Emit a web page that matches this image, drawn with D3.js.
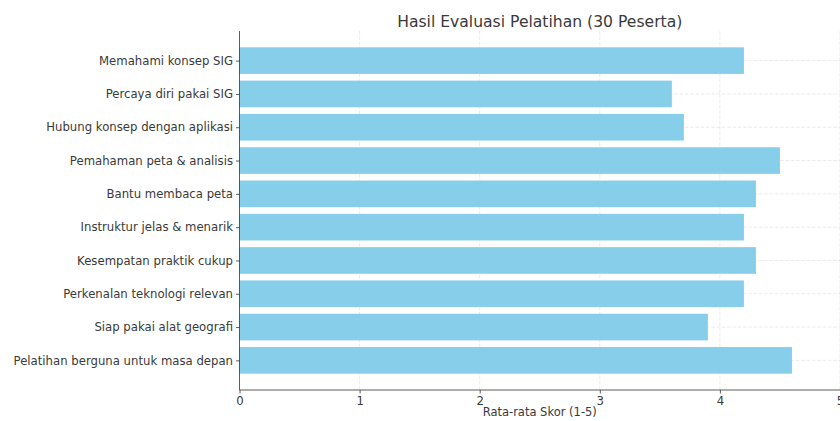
<!DOCTYPE html>
<html><head><meta charset="utf-8">
<script src="https://cdn.jsdelivr.net/npm/d3@7"></script>
<style>body{margin:0;background:#fff}svg{display:block}text{font-family:"DejaVu Sans",sans-serif;fill:#3a3a3a}</style>
</head><body><svg id="c" width="840" height="421"></svg>
<script>
const categories = ["Memahami konsep SIG","Percaya diri pakai SIG","Hubung konsep dengan aplikasi","Pemahaman peta & analisis","Bantu membaca peta","Instruktur jelas & menarik","Kesempatan praktik cukup","Perkenalan teknologi relevan","Siap pakai alat geografi","Pelatihan berguna untuk masa depan"];
const scores = [4.2,3.6,3.7,4.5,4.3,4.2,4.3,4.2,3.9,4.6];
const xTicks = [0,1,2,3,4,5];
const title = "Hasil Evaluasi Pelatihan (30 Peserta)";
const xLabel = "Rata-rata Skor (1-5)";

const svg = d3.select("#c");
const L = 239.5, R = 840, T = 31, B = 390;
const x = d3.scaleLinear().domain([0,5]).range([L,R]);
const y = d3.scaleLinear().domain([-0.89, categories.length - 1 + 0.89]).range([T,B]);
const bh = 0.8 * (y(1) - y(0));

// grid
const g = svg.append("g");
g.selectAll("line.vx").data(xTicks.slice(1)).join("line")
  .attr("x1", d=>x(d)).attr("x2", d=>x(d)).attr("y1", T).attr("y2", B)
  .attr("stroke", "#c8c8c8").attr("stroke-opacity", 0.45).attr("stroke-dasharray", "3.7,1.6").attr("stroke-width", 0.8);
g.selectAll("line.hy").data(categories).join("line")
  .attr("x1", L).attr("x2", R).attr("y1", (d,i)=>y(i)).attr("y2", (d,i)=>y(i))
  .attr("stroke", "#c8c8c8").attr("stroke-opacity", 0.45).attr("stroke-dasharray", "3.7,1.6").attr("stroke-width", 0.8);

// bars
svg.selectAll("rect.bar").data(scores).join("rect")
  .attr("x", x(0)).attr("y", (d,i)=>y(i) - bh/2)
  .attr("width", d=>x(d) - x(0)).attr("height", bh)
  .attr("fill", "#87CEEB");

// axes
const xAxis = d3.axisBottom(x).tickValues(xTicks).tickFormat(d3.format("d")).tickSize(3.5).tickPadding(3);
const xa = svg.append("g").attr("transform", `translate(0,${B})`).call(xAxis);
const yAxis = d3.axisLeft(y).tickValues(d3.range(categories.length)).tickFormat(i=>categories[i]).tickSize(3.5).tickPadding(3);
const ya = svg.append("g").attr("transform", `translate(${L},0)`).call(yAxis);
[xa, ya].forEach(a => {
  a.select(".domain").attr("stroke", "#333").attr("stroke-width", 0.8);
  a.selectAll(".tick line").attr("stroke", "#333").attr("stroke-width", 0.8);
  a.selectAll(".tick text").attr("font-size", 11.7).attr("fill", "#3a3a3a").style("font-family", '"DejaVu Sans",sans-serif');
});
ya.select(".domain").attr("d", `M0,${T}V${B}`);
xa.select(".domain").attr("d", `M${L},0H${R}`);

svg.append("text").attr("x", (L+R)/2).attr("y", 27).attr("text-anchor", "middle").attr("font-size", 15.6).text(title);
svg.append("text").attr("x", (L+R)/2).attr("y", 416).attr("text-anchor", "middle").attr("font-size", 11.5).text(xLabel);
</script></body></html>
